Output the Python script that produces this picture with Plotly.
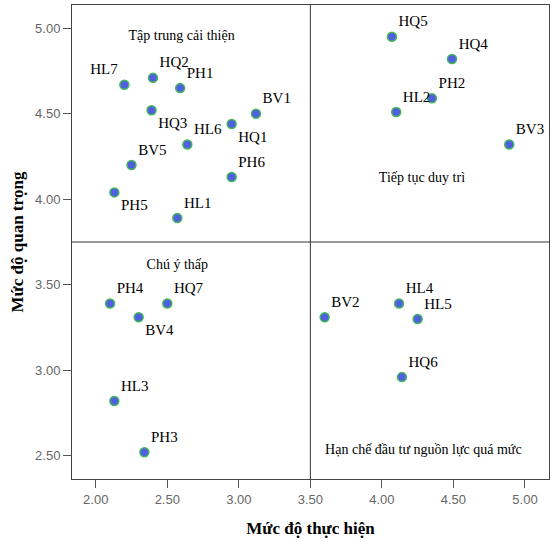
import plotly.graph_objects as go

# Importance-performance matrix data
codes = ["HL7", "HQ2", "PH1", "HQ3", "BV1", "HQ1", "HL6", "BV5", "PH6", "PH5", "HL1",
         "HQ5", "HQ4", "PH2", "HL2", "BV3",
         "PH4", "HQ7", "BV4", "HL3", "PH3",
         "BV2", "HL4", "HL5", "HQ6"]
performance = [2.20, 2.40, 2.59, 2.39, 3.12, 2.95, 2.64, 2.25, 2.95, 2.13, 2.57,
               4.07, 4.49, 4.35, 4.10, 4.89,
               2.10, 2.50, 2.30, 2.13, 2.34,
               3.60, 4.12, 4.25, 4.14]
importance = [4.67, 4.71, 4.65, 4.52, 4.50, 4.44, 4.32, 4.20, 4.13, 4.04, 3.89,
              4.95, 4.82, 4.59, 4.51, 4.32,
              3.39, 3.39, 3.31, 2.82, 2.52,
              3.31, 3.39, 3.30, 2.96]
label_pos = ["top left", "top right", "top right", "bottom right", "top right",
             "bottom right", "top right", "top right", "top right", "bottom right",
             "top right",
             "top right", "top right", "top right", "top right", "top right",
             "top right", "top right", "bottom right", "top right", "top right",
             "top right", "top right", "top right", "top right"]

quadrant_names = ["Tập trung cải thiện", "Tiếp tục duy trì", "Chú ý thấp",
                  "Hạn chế đầu tư nguồn lực quá mức"]
quadrant_x = [2.60, 4.28, 2.57, 4.29]
quadrant_y = [4.95, 4.12, 3.61, 2.53]

x_split = 3.5
y_split = 3.75

x_ticks = [2.0, 2.5, 3.0, 3.5, 4.0, 4.5, 5.0]
y_ticks = [2.5, 3.0, 3.5, 4.0, 4.5, 5.0]

serif = "Liberation Serif, Times New Roman, serif"

fig = go.Figure()

fig.add_trace(go.Scatter(
    x=performance,
    y=importance,
    mode="markers+text",
    text=codes,
    textposition=label_pos,
    textfont=dict(family=serif, size=15, color="black"),
    marker=dict(size=9, color="#4f5fe0", line=dict(color="#45b85a", width=1.5)),
    cliponaxis=False,
    showlegend=False,
))

fig.add_trace(go.Scatter(
    x=quadrant_x,
    y=quadrant_y,
    mode="text",
    text=quadrant_names,
    textposition="middle center",
    textfont=dict(family=serif, size=14, color="black"),
    showlegend=False,
    hoverinfo="skip",
))

# Quadrant dividers
fig.add_vline(x=x_split, line=dict(color="#333333", width=1))
fig.add_hline(y=y_split, line=dict(color="#333333", width=1))

fig.update_xaxes(
    range=[1.834, 5.168],
    tickvals=x_ticks,
    ticktext=[f"{v:.2f}" for v in x_ticks],
    ticks="outside", ticklen=8, tickcolor="#555555",
    showline=True, linecolor="#444444", linewidth=1, mirror=True,
    showgrid=False, zeroline=False, automargin=False,
    tickfont=dict(family="Liberation Sans, Arial, sans-serif", size=13, color="#666666"),
    title=dict(text="<b>Mức độ thực hiện</b>",
               font=dict(family=serif, size=17, color="black"), standoff=16),
)
fig.update_yaxes(
    range=[2.364, 5.136],
    tickvals=y_ticks,
    ticktext=[f"{v:.2f}" for v in y_ticks],
    ticks="outside", ticklen=8, tickcolor="#555555",
    showline=True, linecolor="#444444", linewidth=1, mirror=True,
    showgrid=False, zeroline=False, automargin=False,
    tickfont=dict(family="Liberation Sans, Arial, sans-serif", size=13, color="#666666"),
    title=dict(text="<b>Mức độ quan trọng</b>",
               font=dict(family=serif, size=17, color="black"), standoff=7),
)

fig.update_layout(
    width=556,
    height=559,
    margin=dict(l=72, r=7, t=5, b=80, autoexpand=False),
    plot_bgcolor="white",
    paper_bgcolor="white",
)

# drop the browser's default page margin so the figure sits at the window origin
fig.write_html("out.html", config={"displayModeBar": False},
               post_script="document.body.style.margin = '0';")
